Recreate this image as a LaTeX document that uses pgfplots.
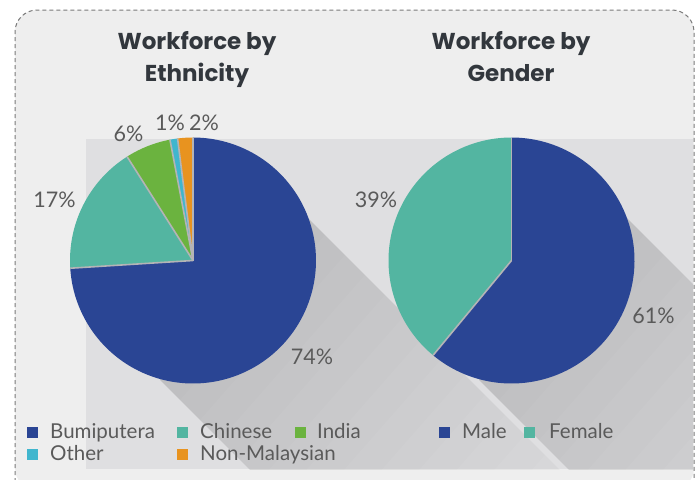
\documentclass[border=0pt]{standalone}
\usepackage{pgfplots}
\pgfplotsset{compat=1.18}
\usepackage{fontspec}
\setmainfont{Lato}
\newfontfamily\titlefont{Poppins}
\definecolor{blueC}{HTML}{2A4594}
\definecolor{tealC}{HTML}{53B5A1}
\definecolor{greenC}{HTML}{6BB33F}
\definecolor{cyanC}{HTML}{40B6CE}
\definecolor{orangeC}{HTML}{E8931F}
\definecolor{bgC}{HTML}{EEEEEE}
\definecolor{rectC}{HTML}{DFDFE1}
\definecolor{txtC}{HTML}{5A5A5A}
\definecolor{titleC}{HTML}{32373D}
\definecolor{sepC}{HTML}{B4B4B6}
\definecolor{borderC}{HTML}{7A7A7A}
% slice: center x, center y, cumulative start (%), value (%), colour
\newcommand\slice[5]{%
  \addplot[fill=#5, draw=none, domain={90-3.6*(#3+#4)}:{90-3.6*(#3)}, samples=120]
    ({#1+123*cos(x)},{#2-123*sin(x)}) -- (axis cs:#1,#2) -- cycle;}
\newcommand\sep[3]{\draw[sepC, line width=1.6pt] (axis cs:#1,#2) -- ++({90-3.6*(#3)}:123pt);}
\begin{document}
\begin{tikzpicture}
\begin{axis}[
  width=700pt, height=479pt, scale only axis,
  xmin=0, xmax=700, ymin=0, ymax=479, y dir=reverse,
  hide axis, clip=true]
% background
\fill[bgC, rounded corners=22pt] (axis cs:15,490) -- (axis cs:15,10) -- (axis cs:694,10) -- (axis cs:694,490) -- cycle;
\fill[rectC] (axis cs:86,139) rectangle (axis cs:693,469);
\begin{scope}
\clip (axis cs:86,139) rectangle (axis cs:693,469);
\pgfplotsinvokeforeach{20,40,...,320}{%
  \fill[black, opacity=0.0085] (axis cs:305,215) -- (axis cs:305+#1,215+#1) -- (axis cs:160+#1,380+#1) -- (axis cs:160,380) -- (axis cs:193,260) -- cycle;
  \fill[black, opacity=0.0085] (axis cs:624,215) -- (axis cs:624+#1,215+#1) -- (axis cs:479+#1,380+#1) -- (axis cs:479,380) -- (axis cs:511,260) -- cycle;
}
\end{scope}
\draw[borderC, line width=1pt, dash pattern=on 4pt off 3pt, rounded corners=22pt] (axis cs:15,482) -- (axis cs:15,10) -- (axis cs:694,10) -- (axis cs:694,482);
% Ethnicity pie
\slice{193}{260.5}{0}{74}{blueC}
\slice{193}{260.5}{74}{17}{tealC}
\slice{193}{260.5}{91}{6}{greenC}
\slice{193}{260.5}{97}{1}{cyanC}
\slice{193}{260.5}{98}{2}{orangeC}
\sep{193}{260.5}{0}
\sep{193}{260.5}{74}
\sep{193}{260.5}{91}
\sep{193}{260.5}{97}
\sep{193}{260.5}{98}
% Gender pie
\slice{511.5}{260.5}{0}{61}{blueC}
\slice{511.5}{260.5}{61}{39}{tealC}
\sep{511.5}{260.5}{0}
\sep{511.5}{260.5}{61}
% titles
\begin{scope}[every node/.style={font=\titlefont\bfseries\fontsize{23}{27}\selectfont, text=titleC, anchor=base, inner sep=0pt}]
\node at (axis cs:197,49) {Workforce by};
\node at (axis cs:197,81) {Ethnicity};
\node at (axis cs:511,49) {Workforce by};
\node at (axis cs:511,81) {Gender};
\end{scope}
% percentage labels
\begin{scope}[every node/.style={font=\fontsize{21.5}{25}\selectfont, text=txtC, anchor=base, inner sep=0pt}]
\node at (axis cs:312,364) {74\%};
\node at (axis cs:54.5,207) {17\%};
\node at (axis cs:128.5,141) {6\%};
\node at (axis cs:170,130) {1\%};
\node at (axis cs:204,130) {2\%};
\node at (axis cs:376,207) {39\%};
\node at (axis cs:653.5,323) {61\%};
\end{scope}
% legends
\begin{scope}[every node/.style={font=\fontsize{20.5}{24}\selectfont, text=txtC, anchor=base west, inner sep=0pt}]
\fill[blueC] (axis cs:27,427) rectangle (axis cs:38,438);
\node at (axis cs:50,438) {Bumiputera};
\fill[tealC] (axis cs:176.5,427) rectangle (axis cs:187.5,438);
\node at (axis cs:200,438) {Chinese};
\fill[greenC] (axis cs:294.5,427) rectangle (axis cs:305.5,438);
\node at (axis cs:317,438) {India};
\fill[cyanC] (axis cs:27,449) rectangle (axis cs:38,460);
\node at (axis cs:50,460) {Other};
\fill[orangeC] (axis cs:176.5,449) rectangle (axis cs:187.5,460);
\node at (axis cs:200,460) {Non-Malaysian};
\fill[blueC] (axis cs:438.5,427) rectangle (axis cs:449.5,438);
\node at (axis cs:462,438) {Male};
\fill[tealC] (axis cs:524,427) rectangle (axis cs:535,438);
\node at (axis cs:549,438) {Female};
\end{scope}
\end{axis}
\pgfresetboundingbox
\useasboundingbox (current axis.south west) rectangle (current axis.north east);
\end{tikzpicture}
\end{document}
